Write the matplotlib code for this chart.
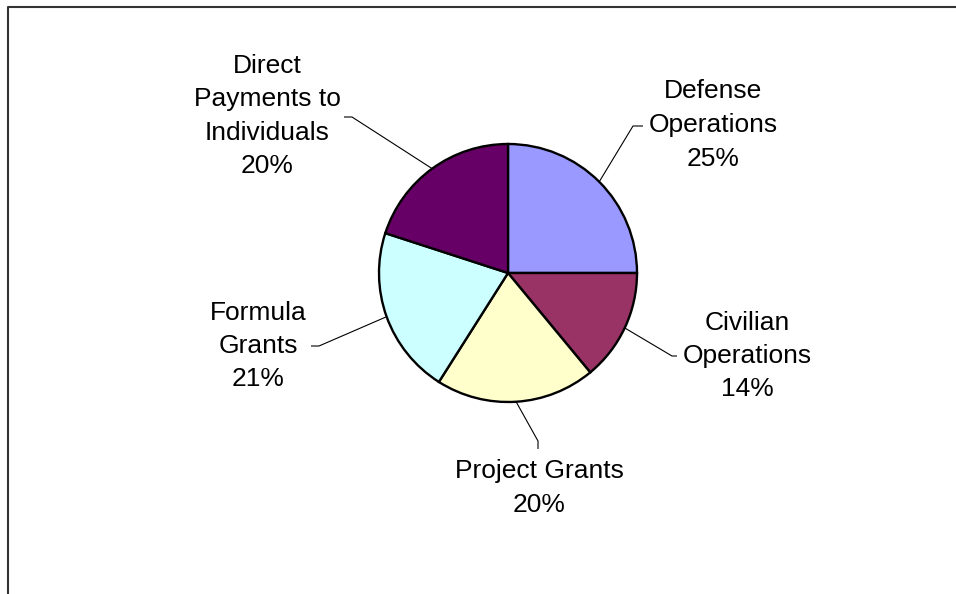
import numpy as np
import matplotlib
matplotlib.use("Agg")
import matplotlib.pyplot as plt

plt.rcParams["font.family"] = ["Liberation Sans", "DejaVu Sans"]

labels = ["Defense\nOperations", "Civilian\nOperations", "Project Grants",
          "Formula\nGrants", "Direct\nPayments to\nIndividuals"]
shares = [25, 14, 20, 21, 20]
colors = ["#9999FF", "#993366", "#FFFFCC", "#CCFFFF", "#660066"]

W, H = 956, 594
CX, CY, R = 508, 273, 129

# leader elbow, leader end, text centre (pixel coords from the top-left)
callouts = [
    ((633, 126), (643, 126), (713, 125)),
    ((672, 356), (677, 356), (747, 356)),
    ((538, 441), (538, 449), (539, 488)),
    ((319, 346), (311, 346), (258, 346)),
    ((352, 117), (344, 117), (267, 116)),
]

fig = plt.figure(figsize=(W / 100, H / 100), dpi=100)
ax = fig.add_axes([0, 0, 1, 1])


def flip(p):
    return (p[0], H - p[1])


ax.pie(shares, colors=colors, startangle=90, counterclock=False,
       center=(CX, H - CY), radius=R, frame=True,
       wedgeprops=dict(edgecolor="black", linewidth=1.7))
ax.set_xlim(0, W)
ax.set_ylim(0, H)
ax.set_aspect("equal")
ax.axis("off")

total = sum(shares)
start = 90.0
for share, lab, (elbow, end, txt) in zip(shares, labels, callouts):
    mid = np.deg2rad(start - share / total * 180)
    start -= share / total * 360
    p0 = (CX + R * np.cos(mid), H - CY + R * np.sin(mid))
    e = flip(elbow)
    q = flip(end)
    ax.plot([p0[0], e[0], q[0]], [p0[1], e[1], q[1]], color="black", lw=0.8,
            solid_capstyle="butt", zorder=1)
    tx, ty = flip(txt)
    ax.text(tx, ty, f"{lab}\n{share}%", ha="center", va="center", fontsize=19,
            linespacing=1.5, color="black")

# outer frame, running off the right and bottom edges
fig.add_artist(plt.Line2D([8 / W, 8 / W, 1.0], [0.0, 1 - 7 / H, 1 - 7 / H],
                          transform=fig.transFigure, color="#333333", lw=1.5))

fig.savefig("out.png", dpi=100)
